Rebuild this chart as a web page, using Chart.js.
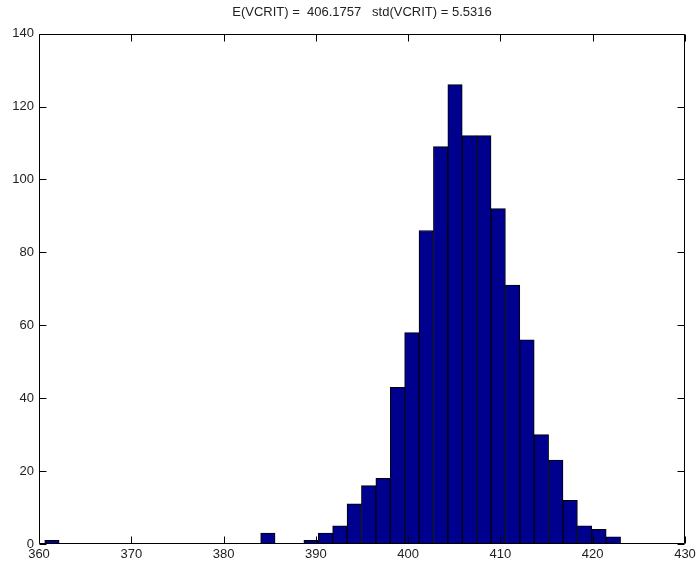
<!DOCTYPE html>
<html>
<head>
<meta charset="utf-8">
<script src="https://cdn.jsdelivr.net/npm/chart.js@4"></script>
<style>
  html, body { margin: 0; padding: 0; background: #fff; }
  #chart { display: block; }
</style>
</head>
<body>
<canvas id="chart" width="696" height="563"></canvas>
<script>
// -----------------------------
// Data (histogram of VCRIT, 40 bins)
// -----------------------------
const binCenters = [
    361.40, 362.96, 364.52, 366.08, 367.64, 369.20, 370.76, 372.32, 373.88, 375.44,
    377.00, 378.56, 380.12, 381.68, 383.24, 384.80, 386.36, 387.92, 389.48, 391.04,
    392.60, 394.16, 395.72, 397.28, 398.84, 400.40, 401.96, 403.52, 405.08, 406.64,
    408.20, 409.76, 411.32, 412.88, 414.44, 416.00, 417.56, 419.12, 420.68, 422.24
];
const binCounts = [
    1, 0, 0, 0, 0, 0, 0, 0, 0, 0,
    0, 0, 0, 0, 0, 3, 0, 0, 1, 3,
    5, 11, 16, 18, 43, 58, 86, 109, 126, 112,
    112, 92, 71, 56, 30, 23, 12, 5, 4, 2
];
const xTicks = [360, 370, 380, 390, 400, 410, 420, 430];
const yTicks = [0, 20, 40, 60, 80, 100, 120, 140];
const titleText = 'E(VCRIT) =  406.1757   std(VCRIT) = 5.5316';

// -----------------------------
// Box with inward ticks, MATLAB style
// -----------------------------
const boxPlugin = {
    id: 'matlabBox',
    afterDraw(chart) {
        const { ctx, chartArea: a, scales } = chart;
        const len = 7;
        ctx.save();
        ctx.strokeStyle = '#000';
        ctx.lineWidth = 1;
        ctx.beginPath();
        const l = Math.round(a.left) + 0.5, r = Math.round(a.right) - 0.5;
        const t = Math.round(a.top) + 0.5, b = Math.round(a.bottom) - 0.5;
        ctx.rect(l, t, r - l, b - t);
        xTicks.forEach(v => {
            const x = Math.round(scales.x.getPixelForValue(v)) + 0.5;
            ctx.moveTo(x, b); ctx.lineTo(x, b - len);
            ctx.moveTo(x, t); ctx.lineTo(x, t + len);
        });
        yTicks.forEach(v => {
            const y = Math.round(scales.y.getPixelForValue(v)) + 0.5;
            ctx.moveTo(l, y); ctx.lineTo(l + len, y);
            ctx.moveTo(r, y); ctx.lineTo(r - len, y);
        });
        ctx.stroke();
        ctx.restore();
    }
};

const tickFont = { family: '"Liberation Sans", Arial, sans-serif', size: 13 };

new Chart(document.getElementById('chart'), {
    type: 'bar',
    data: {
        datasets: [{
            data: binCenters.map((c, i) => ({ x: c, y: binCounts[i] })),
            backgroundColor: '#00008f',
            borderColor: '#000',
            borderWidth: 1,
            borderSkipped: false,
            barPercentage: 1,
            categoryPercentage: 1
        }]
    },
    options: {
        responsive: false,
        animation: false,
        layout: { padding: { left: 0, right: 11, top: 0, bottom: 0 } },
        plugins: {
            legend: { display: false },
            tooltip: { enabled: false },
            title: {
                display: true,
                fullSize: false,
                text: titleText,
                color: '#222',
                font: { family: '"Liberation Sans", Arial, sans-serif', size: 13, weight: 'normal' },
                padding: { top: 5, bottom: 13 }
            }
        },
        scales: {
            x: {
                type: 'linear',
                min: 360,
                max: 430,
                offset: false,
                grid: { display: false, drawTicks: false },
                border: { display: false },
                ticks: {
                    stepSize: 10,
                    color: '#222',
                    font: tickFont,
                    padding: 3,
                    maxRotation: 0
                },
                afterFit: s => {
                    s.height = 19;
                    s.paddingLeft = 0;
                    s.paddingRight = 0;
                }
            },
            y: {
                min: 0,
                max: 140,
                grid: { display: false, drawTicks: false },
                border: { display: false },
                ticks: {
                    stepSize: 20,
                    color: '#222',
                    font: tickFont,
                    padding: 5
                },
                afterFit: s => { s.width = 39; }
            }
        }
    },
    plugins: [boxPlugin]
});
</script>
</body>
</html>
